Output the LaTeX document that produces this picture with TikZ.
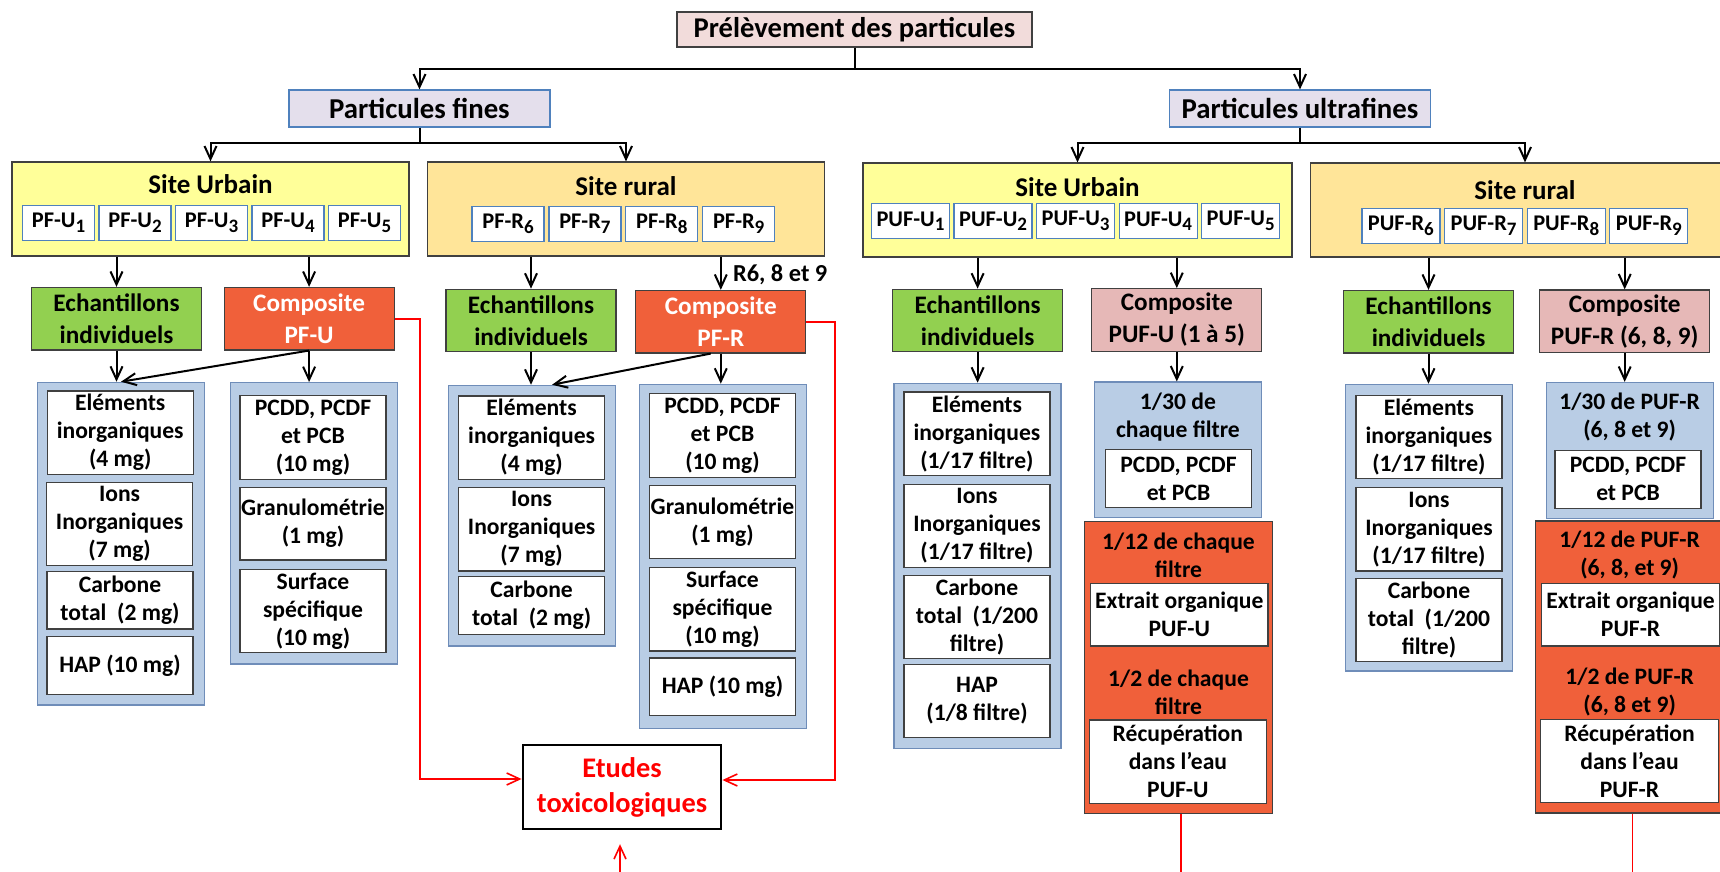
\documentclass[tikz,border=0pt]{standalone}
\usepackage{fontspec}
\setmainfont{Carlito}
\usetikzlibrary{arrows.meta}

\definecolor{prelpink}{RGB}{242,220,219}
\definecolor{partlav}{RGB}{228,223,236}
\definecolor{partedge}{RGB}{79,129,189}
\definecolor{urbyellow}{RGB}{255,255,153}
\definecolor{rurorange}{RGB}{255,229,153}
\definecolor{echgreen}{RGB}{146,208,80}
\definecolor{compred}{RGB}{240,96,58}
\definecolor{comppinkc}{RGB}{230,184,183}
\definecolor{bluefill}{RGB}{185,205,229}
\definecolor{bluedge}{RGB}{111,141,185}
\definecolor{linegray}{RGB}{64,64,64}

\newcommand{\idx}[1]{\raisebox{-0.45ex}{\fontsize{9.5}{10}\selectfont #1}}

\tikzset{
  box/.style={draw=linegray, line width=0.6pt, align=center, inner sep=0pt},
  prelbox/.style={box, fill=prelpink, minimum width=177.5pt, minimum height=17.5pt,
    font=\bfseries\fontsize{14.3}{16}\selectfont},
  partbox/.style={box, draw=partedge, fill=partlav, minimum width=130.5pt, minimum height=18.5pt,
    font=\bfseries\fontsize{14.4}{16}\selectfont},
  sitebox/.style={box, minimum height=47pt},
  sitetitle/.style={font=\bfseries\fontsize{13.5}{15}\selectfont},
  samplebox/.style={box, draw=partedge, fill=white, minimum width=36pt, minimum height=17.5pt,
    font=\bfseries\fontsize{11.2}{13}\selectfont},
  groupbox/.style={box, minimum width=85pt, minimum height=31.25pt,
    font=\bfseries\fontsize{12.6}{16}\selectfont},
  echbox/.style={groupbox, fill=echgreen},
  compbox/.style={groupbox, fill=compred, text=white},
  comppk/.style={groupbox, fill=comppinkc},
  bluebox/.style={box, draw=bluedge, fill=bluefill, minimum width=83.5pt},
  orangebox/.style={box, fill=compred, minimum width=94pt, minimum height=146pt},
  whitebox/.style={box, fill=white, minimum width=73pt, font=\bfseries\fontsize{11.8}{14}\selectfont},
  widebox/.style={whitebox, minimum width=88.75pt},
  tall/.style={minimum height=41.7pt},
  mid/.style={minimum height=36.35pt},
  short/.style={minimum height=28.75pt},
  note/.style={font=\bfseries\fontsize{11.8}{14}\selectfont, align=center},
  link/.style={line width=1pt},
  redlink/.style={red, line width=0.8pt},
}

\begin{document}
\begin{tikzpicture}[x=0.5pt, y=-0.5pt, >={Straight Barb[length=6.5pt,width=6pt]}]
\useasboundingbox (0,0) rectangle (1720,872);

% top levels
\node[prelbox] (prel) at (854.5,29.5) {Prélèvement des particules};
\node[partbox] (pf) at (419.5,108.5) {Particules fines};
\node[partbox] (puf) at (1300,108.5) {Particules ultrafines};

% sites
\node[sitebox, fill=urbyellow, minimum width=198.5pt] (pfurb) at (210.5,209) {};
\node[sitebox, fill=rurorange, minimum width=198.5pt] (pfrur) at (626,209) {};
\node[sitebox, fill=urbyellow, minimum width=214.5pt] (pufurb) at (1077.5,210) {};
\node[sitebox, fill=rurorange, minimum width=214.5pt] (pufrur) at (1525,210) {};
\node[sitetitle] at (210.5,184) {Site Urbain};
\node[sitetitle] at (626,186) {Site rural};
\node[sitetitle] at (1077.5,187) {Site Urbain};
\node[sitetitle] at (1525,190) {Site rural};

\foreach \i [count=\k from 0] in {1,...,5}
  \node[samplebox] (pfu\i) at ({58.5+76.5*\k},223) {PF-U\idx{\i}};
\foreach \i [count=\k from 0] in {6,...,9}
  \node[samplebox] (pfr\i) at ({508+76.9*\k},224) {PF-R\idx{\i}};
\foreach \i [count=\k from 0] in {1,...,5}
  \node[samplebox, minimum width=39pt] (pufu\i) at ({910.5+82.55*\k},221.2) {PUF-U\idx{\i}};
\foreach \i [count=\k from 0] in {6,...,9}
  \node[samplebox, minimum width=39pt] (pufr\i) at ({1400.9+82.65*\k},225.8) {PUF-R\idx{\i}};

% samples and composites
\node[echbox] (pfuech) at (116.5,318.7) {Echantillons\\individuels};
\node[compbox] (pfucomp) at (309.1,318.7) {Composite\\PF-U};
\node[echbox] (pfrech) at (531,320.5) {Echantillons\\individuels};
\node[compbox] (pfrcomp) at (720.8,321.7) {Composite\\PF-R};
\node[echbox] (pufuech) at (977.6,320.5) {Echantillons\\individuels};
\node[comppk] (pufucomp) at (1176.8,319.9) {Composite\\PUF-U (1 à 5)};
\node[echbox] (pufrech) at (1428.5,321.7) {Echantillons\\individuels};
\node[comppk] (pufrcomp) at (1624.7,321.2) {Composite\\PUF-R (6, 8, 9)};
\node[note, anchor=west, font=\bfseries\fontsize{12.2}{14}\selectfont] (rlabel) at (726,275) {R6, 8 et 9};

% analyses PF-U
\node[bluebox, minimum height=161.35pt] (pfuind) at (121,543.7) {};
\node[whitebox, tall] (pfuind1) at (120.2,432.7) {Eléments\\inorganiques\\(4 mg)};
\node[whitebox, tall] (pfuind2) at (119.6,524) {Ions\\Inorganiques\\(7 mg)};
\node[whitebox, short] (pfuind3) at (120,600.3) {Carbone\\total~ (2 mg)};
\node[whitebox, short] (pfuind4) at (120,665.5) {HAP (10 mg)};
\node[bluebox, minimum height=140.65pt] (pfucmp) at (313.8,523.3) {};
\node[whitebox, tall] (pfucmp1) at (313,437.5) {PCDD, PCDF\\et PCB\\(10 mg)};
\node[whitebox, mid] (pfucmp2) at (313,523.7) {Granulométrie\\(1 mg)};
\node[whitebox, tall] (pfucmp3) at (313,611) {Surface\\spécifique\\(10 mg)};

% analyses PF-R
\node[bluebox, minimum height=130.35pt] (pfrind) at (532.1,515.7) {};
\node[whitebox, tall] (pfrind1) at (531.6,437.7) {Eléments\\inorganiques\\(4 mg)};
\node[whitebox, tall] (pfrind2) at (531.6,529.3) {Ions\\Inorganiques\\(7 mg)};
\node[whitebox, short] (pfrind3) at (531.6,605.5) {Carbone\\total~ (2 mg)};
\node[bluebox, minimum height=172pt] (pfrcmp) at (723,556.3) {};
\node[whitebox, tall] (pfrcmp1) at (722.5,435.5) {PCDD, PCDF\\et PCB\\(10 mg)};
\node[whitebox, mid] (pfrcmp2) at (722.5,522) {Granulométrie\\(1 mg)};
\node[whitebox, tall] (pfrcmp3) at (722.5,609.2) {Surface\\spécifique\\(10 mg)};
\node[whitebox, short] (pfrcmp4) at (722.5,686.8) {HAP (10 mg)};

% analyses PUF-U
\node[bluebox, minimum height=182.5pt] (pufuind) at (977.4,565.8) {};
\node[whitebox, tall] (pufuind1) at (976.9,433.7) {Eléments\\inorganiques\\(1/17 filtre)};
\node[whitebox, tall] (pufuind2) at (977,526) {Ions\\Inorganiques\\(1/17 filtre)};
\node[whitebox, tall] (pufuind3) at (977,616.8) {Carbone\\total~ (1/200\\filtre)};
\node[whitebox, mid] (pufuind4) at (977,700.8) {HAP\\(1/8 filtre)};
\node[bluebox, minimum height=67.65pt] (pufucmp) at (1177.9,449.7) {};
\node[note] at (1177.9,417) {1/30 de\\chaque filtre};
\node[whitebox, minimum height=29.2pt] (pufucmp1) at (1178.5,478.5) {PCDD, PCDF\\et PCB};
\node[orangebox] (pufuorg) at (1178.5,667.3) {};
\node[note] at (1178.5,555.5) {1/12 de chaque\\filtre};
\node[widebox, minimum height=31.35pt] (pufuorg1) at (1179.3,614.7) {Extrait organique\\PUF-U};
\node[note] at (1178.5,692) {1/2 de chaque\\filtre};
\node[widebox, minimum height=41.65pt] (pufuorg2) at (1177.9,761.7) {Récupération\\dans l’eau\\PUF-U};

% analyses PUF-R
\node[bluebox, minimum height=143.35pt] (pufrind) at (1429.2,527.7) {};
\node[whitebox, tall] (pufrind1) at (1428.9,436.9) {Eléments\\inorganiques\\(1/17 filtre)};
\node[whitebox, tall] (pufrind2) at (1429,529.2) {Ions\\Inorganiques\\(1/17 filtre)};
\node[whitebox, tall] (pufrind3) at (1429,619.8) {Carbone\\total~ (1/200\\filtre)};
\node[bluebox, minimum height=67.9pt] (pufrcmp) at (1629.6,450.4) {};
\node[note] at (1629.6,417) {1/30 de PUF-R\\(6, 8 et 9)};
\node[whitebox, minimum height=29.2pt] (pufrcmp1) at (1628,479.3) {PCDD, PCDF\\et PCB};
\node[orangebox] (pufrorg) at (1629.7,667) {};
\node[note] at (1629.7,555.5) {1/12 de PUF-R\\(6, 8, et 9)};
\node[widebox, minimum height=31.35pt] (pufrorg1) at (1630.6,614.7) {Extrait organique\\PUF-R};
\node[note] at (1629.7,692) {1/2 de PUF-R\\(6, 8 et 9)};
\node[widebox, minimum height=41.65pt] (pufrorg2) at (1629.5,761) {Récupération\\dans l’eau\\PUF-R};

\node[box, draw=black, line width=1.2pt, fill=white, text=red, minimum width=99.25pt, minimum height=42pt,
  font=\bfseries\fontsize{14.2}{17.5}\selectfont] (etudes) at (622,787) {Etudes\\toxicologiques};

% connectors
\coordinate (j0) at (854.5,69);
\coordinate (j1) at (419.5,143.3);
\coordinate (j2) at (1300,143.3);
\draw[link] (prel.south) -- (j0);
\draw[link,->] (j0) -| (pf.north);
\draw[link,->] (j0) -| (puf.north);
\draw[link] (pf.south) -- (j1);
\draw[link,->] (j1) -| (pfurb.north);
\draw[link,->] (j1) -| (pfrur.north);
\draw[link] (puf.south) -- (j2);
\draw[link,->] (j2) -| (pufurb.north);
\draw[link,->] (j2) -| (pufrur.north);

\draw[link,->] (pfurb.south -| pfuech.north) -- (pfuech.north);
\draw[link,->] (pfurb.south -| pfucomp.north) -- (pfucomp.north);
\draw[link,->] (pfrur.south -| pfrech.north) -- (pfrech.north);
\draw[link,->] (pfrur.south -| pfrcomp.north) -- (pfrcomp.north);
\draw[link,->] (pufurb.south -| pufuech.north) -- (pufuech.north);
\draw[link,->] (pufurb.south -| pufucomp.north) -- (pufucomp.north);
\draw[link,->] (pufrur.south -| pufrech.north) -- (pufrech.north);
\draw[link,->] (pufrur.south -| pufrcomp.north) -- (pufrcomp.north);

\draw[link,->] (pfuech.south) -- (pfuech.south |- pfuind.north);
\draw[link,->] (pfucomp.south) -- (pfucomp.south |- pfucmp.north);
\draw[link,->] (pfucomp.south) -- (pfuind.north);
\draw[link,->] (pfrech.south) -- (pfrech.south |- pfrind.north);
\draw[link,->] (pfrcomp.south) -- (pfrcomp.south |- pfrcmp.north);
\draw[link,->] ([xshift=-5pt]pfrcomp.south) -- ([xshift=10pt]pfrind.north);
\draw[link,->] (pufuech.south) -- (pufuech.south |- pufuind.north);
\draw[link,->] (pufucomp.south) -- (pufucomp.south |- pufucmp.north);
\draw[link,->] (pufrech.south) -- (pufrech.south |- pufrind.north);
\draw[link,->] (pufrcomp.south) -- (pufrcomp.south |- pufrcmp.north);

% toxicology links
\coordinate (botin) at (620,872);
\coordinate (uend) at (1181,872);
\coordinate (rend) at (1632.5,872);
\draw[redlink,->] (pfucomp.east) -- ++(25,0) |- ([yshift=4pt]etudes.west);
\draw[redlink,->] (pfrcomp.east) -- ++(28.5,0) |- ([yshift=3.5pt]etudes.east);
\draw[redlink,->] (botin) -- ([yshift=-7pt]etudes.south -| botin);
\draw[redlink] (pufuorg.south -| uend) -- (uend);
\draw[redlink] (pufrorg.south -| rend) -- (rend);
\end{tikzpicture}
\end{document}
